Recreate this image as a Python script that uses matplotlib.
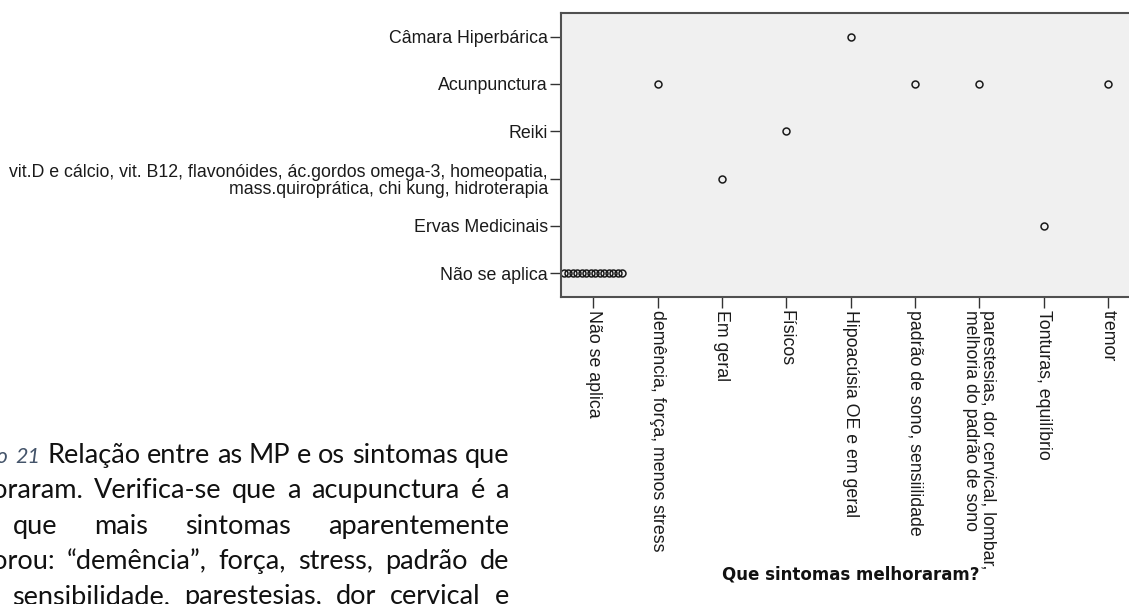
import matplotlib
matplotlib.use("Agg")
import matplotlib.pyplot as plt
import numpy as np

W, H = 1129, 604

# eixo y: medicinas paralelas (de baixo para cima)
mp_labels = [
    "Não se aplica",
    "Ervas Medicinais",
    "vit.D e cálcio, vit. B12, flavonóides, ác.gordos omega-3, homeopatia,\n"
    "mass.quiroprática, chi kung, hidroterapia",
    "Reiki",
    "Acunpunctura",
    "Câmara Hiperbárica",
]

# eixo x: sintomas que melhoraram
sintomas_labels = [
    "Não se aplica",
    "demência, força, menos stress",
    "Em geral",
    "Físicos",
    "Hipoacúsia OE e em geral",
    "padrão de sono, sensiilidade",
    "parestesias, dor cervical, lombar,\nmelhoria do padrão de sono",
    "Tonturas, equilíbrio",
    "tremor",
]

# casos observados: indice do sintoma, indice da MP, nº de casos
caso_sintoma = [0, 1, 2, 3, 4, 5, 6, 7, 8]
caso_mp = [0, 4, 2, 3, 5, 4, 4, 1, 4]
caso_n = [14, 1, 1, 1, 1, 1, 1, 1, 1]

# texto da legenda do documento (linhas justificadas)
caption_lines = [
    "Gráfico 21 Relação entre as MP e os sintomas que",
    "melhoraram. Verifica-se que a acupunctura é a",
    "MP que mais sintomas aparentemente",
    "melhorou: “demência”, força, stress, padrão de",
    "sono, sensibilidade, parestesias, dor cervical e",
]

fig = plt.figure(figsize=(W / 100, H / 100), dpi=100)
fig.patch.set_facecolor("white")

ax = fig.add_axes([561 / W, 1 - 297 / H, (1140 - 561) / W, (297 - 13) / H])
ax.set_facecolor("#f0f0f0")

# casos repetidos ficam empilhados lado a lado, como no SPSS
xs, ys = [], []
for s, m, n in zip(caso_sintoma, caso_mp, caso_n):
    off = (np.arange(n) - (n - 1) / 2) * 0.07
    xs.extend(s + off)
    ys.extend([m] * n)
ax.plot(xs, ys, ls="none", marker="o", ms=5, mfc="none", mec="#1a1a1a", mew=1.1)

ax.set_xlim(-0.5, 8.5)
ax.set_ylim(-0.5, 5.5)

lab_font = dict(family="Liberation Sans", fontsize=12.8, color="#1a1a1a")
ax.set_xticks(range(len(sintomas_labels)))
ax.set_xticklabels(sintomas_labels, rotation=-90, ha="center", va="top",
                   multialignment="left", linespacing=1.0, **lab_font)
ax.set_yticks(range(len(mp_labels)))
ax.set_yticklabels(mp_labels, ha="right", va="center_baseline",
                   multialignment="right", linespacing=1.0, **lab_font)
ax.tick_params(length=8, width=1, color="#333333", pad=1.5)

for sp in ax.spines.values():
    sp.set_color("#505050")
    sp.set_linewidth(1.5)

fig.text(851 / W, 1 - 574 / H, "Que sintomas melhoraram?", ha="center", va="center",
         fontsize=12, weight="bold", family="DejaVu Sans", color="#111111")

# legenda justificada entre a margem (fora da imagem) e x=509
renderer = fig.canvas.get_renderer()
body = dict(family="Lato", fontsize=19.5, color="#111111")
label = dict(family="Lato", fontsize=15.5, style="italic", color="#44546a")
line_left = [-57, -66, -66, -66, -66]
right_px = 509
for i, line in enumerate(caption_lines):
    words = line.split(" ")
    styles = [label if (i == 0 and j < 2) else body for j in range(len(words))]
    widths = []
    for w, st in zip(words, styles):
        t = fig.text(0, 0, w, **st)
        widths.append(t.get_window_extent(renderer).width)
        t.remove()
    gap = (right_px - line_left[i] - sum(widths)) / (len(words) - 1)
    x = line_left[i]
    y = 463 + 35.3 * i
    for w, st, wd in zip(words, styles, widths):
        fig.text(x / W, 1 - y / H, w, ha="left", va="baseline", **st)
        x += wd + gap

fig.savefig("out.png", dpi=100)
